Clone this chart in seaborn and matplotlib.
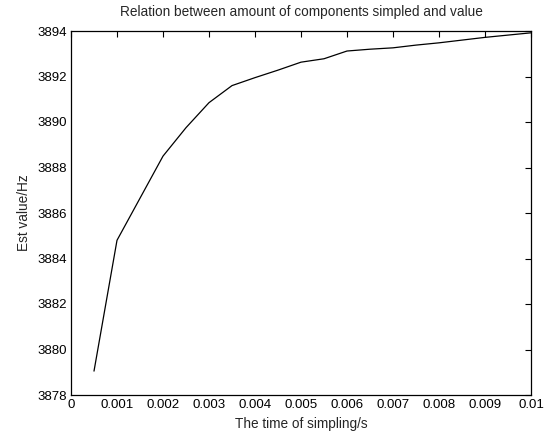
import numpy as np
import pandas as pd
import matplotlib
matplotlib.use("Agg")
import matplotlib.pyplot as plt
import seaborn as sns

# ornekleme zamani (s) ve tahmin edilen deger (Hz)
zaman = [0.0005, 0.001, 0.0015, 0.002, 0.0025, 0.003, 0.0035, 0.004, 0.0045, 0.005,
         0.0055, 0.006, 0.0065, 0.007, 0.0075, 0.008, 0.0085, 0.009, 0.0095, 0.01]
deger = [3879.05, 3884.8, 3886.65, 3888.5, 3889.75, 3890.85, 3891.6, 3891.95, 3892.28, 3892.63,
         3892.78, 3893.12, 3893.2, 3893.26, 3893.38, 3893.48, 3893.6, 3893.72, 3893.82, 3893.92]

x_ticks = [0, 0.001, 0.002, 0.003, 0.004, 0.005, 0.006, 0.007, 0.008, 0.009, 0.01]
x_labels = ['0', '0.001', '0.002', '0.003', '0.004', '0.005', '0.006', '0.007', '0.008', '0.009', '0.01']
y_ticks = [3878, 3880, 3882, 3884, 3886, 3888, 3890, 3892, 3894]

df = pd.DataFrame({'zaman': zaman, 'deger': deger})

sns.set_style("white")
plt.rcParams['font.family'] = ['Liberation Sans', 'DejaVu Sans']

fig = plt.figure(figsize=(5.5, 4.32), dpi=100)
ax = fig.add_axes([71 / 550, 1 - 395 / 432, 460 / 550, 364 / 432])

sns.lineplot(data=df, x='zaman', y='deger', ax=ax, color='black', linewidth=0.9)

ax.set_xlim(0, 0.01)
ax.set_ylim(3878, 3894)
ax.set_xticks(x_ticks)
ax.set_xticklabels(x_labels)
ax.set_yticks(y_ticks)
ax.tick_params(direction='in', length=4, width=0.8, labelsize=9.5, colors='black',
               top=True, right=True, pad=3)

for s in ax.spines.values():
    s.set_visible(True)
    s.set_color('black')
    s.set_linewidth(0.9)

ax.set_title('Relation between amount of components simpled and value', fontsize=9.8, pad=10.5)
ax.set_xlabel('The time of simpling/s', fontsize=9.8, labelpad=4.5)
ax.set_ylabel('Est value/Hz', fontsize=9.8, labelpad=4.5)

fig.savefig('out.png', dpi=100)
